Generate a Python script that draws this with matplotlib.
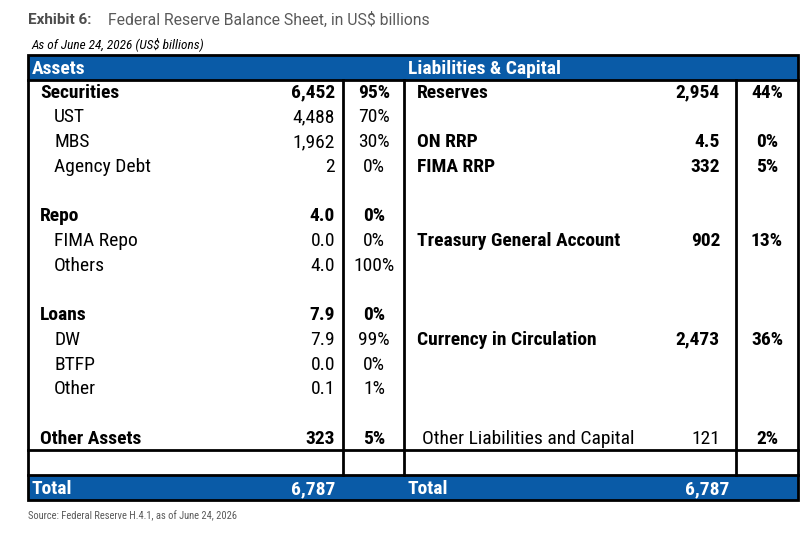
import matplotlib
matplotlib.use("Agg")
import matplotlib.pyplot as plt
from matplotlib.patches import Rectangle

# ---- data ----
asset_labels = ["Securities", "UST", "MBS", "Agency Debt", "",
                "Repo", "FIMA Repo", "Others", "",
                "Loans", "DW", "BTFP", "Other", "",
                "Other Assets"]
asset_values = ["6,452", "4,488", "1,962", "2", "",
                "4.0", "0.0", "4.0", "",
                "7.9", "7.9", "0.0", "0.1", "",
                "323"]
asset_pcts = ["95%", "70%", "30%", "0%", "",
              "0%", "0%", "100%", "",
              "0%", "99%", "0%", "1%", "",
              "5%"]
asset_bold = [True, False, False, False, False,
              True, False, False, False,
              True, False, False, False, False,
              True]

liab_labels = ["Reserves", "", "ON RRP", "FIMA RRP", "", "", "Treasury General Account",
               "", "", "", "Currency in Circulation", "", "", "", "Other Liabilities and Capital"]
liab_values = ["2,954", "", "4.5", "332", "", "", "902",
               "", "", "", "2,473", "", "", "", "121"]
liab_pcts = ["44%", "", "0%", "5%", "", "", "13%",
             "", "", "", "36%", "", "", "", "2%"]
liab_label_bold = [True] * 14 + [False]
liab_value_bold = [True] * 14 + [False]

total_assets = "6,787"
total_liabs = "6,787"

title_bold = "Exhibit 6:"
title_text = "Federal Reserve Balance Sheet, in US$ billions"
subtitle = "As of June 24, 2026 (US$ billions)"
source = "Source: Federal Reserve H.4.1, as of June 24, 2026"

# ---- style ----
COND = ["Roboto Condensed", "Liberation Sans Narrow", "Roboto", "DejaVu Sans"]
BLUE = "#0A5BA7"
GRAY = "#5a5a5a"

W, H = 810, 538
fig = plt.figure(figsize=(W / 100, H / 100), dpi=100)
ax = fig.add_axes([0, 0, 1, 1])
ax.set_xlim(0, W)
ax.set_ylim(H, 0)
ax.axis("off")

# layout (pixels)
L, R = 28, 798
x_v1, x_mid, x_v2 = 342.5, 404, 735.5
top, head_bot = 55, 80
row0, step = 92.8, 24.7
line_y = 450
tot_top, tot_bot = 475, 500
lw = 2.0

# title
ax.text(28, 20, title_bold, fontsize=11, fontweight="bold", color="#4d4d4d",
        family=["Roboto", "DejaVu Sans"], va="center", ha="left")
ax.text(108, 20, title_text, fontsize=11.3, color=GRAY,
        family=["Roboto", "DejaVu Sans"], va="center", ha="left")
ax.text(31, 44.5, subtitle, fontsize=9.5, style="italic", color="black",
        family=COND, va="center", ha="left")
ax.text(28, 516, source, fontsize=7.6, color=GRAY,
        family=COND, va="center", ha="left")

# header band & total band
ax.add_patch(Rectangle((L, top), R - L, head_bot - top, facecolor=BLUE,
                       edgecolor="black", lw=lw, zorder=1))
ax.add_patch(Rectangle((L, tot_top), R - L, tot_bot - tot_top, facecolor=BLUE,
                       edgecolor="black", lw=lw, zorder=1))
# body borders
ax.plot([L, L], [head_bot, tot_top], color="black", lw=lw)
ax.plot([R, R], [head_bot, tot_top], color="black", lw=lw)
for xv in (x_v1, x_mid, x_v2):
    ax.plot([xv, xv], [head_bot, tot_top], color="black", lw=lw)
ax.plot([L, R], [line_y, line_y], color="black", lw=lw)

hdr = dict(fontsize=14, fontweight="bold", color="white", family=COND,
           va="center", ha="left")
ax.text(32, 68.5, "Assets", **hdr)
ax.text(408, 68.5, "Liabilities & Capital", **hdr)

fs = 14
for i, (lab, val, pct, b) in enumerate(zip(asset_labels, asset_values, asset_pcts, asset_bold)):
    y = row0 + i * step
    wt = "bold" if b else "normal"
    if lab:
        ax.text(40 if b else 54, y, lab, fontsize=fs, fontweight=wt, family=COND,
                va="center", ha="left")
    if val:
        ax.text(335, y, val, fontsize=fs, fontweight=wt, family=COND,
                va="center", ha="right")
    if pct:
        ax.text(374, y, pct, fontsize=fs, fontweight=wt, family=COND,
                va="center", ha="center")

for i, (lab, val, pct, bl, bv) in enumerate(zip(liab_labels, liab_values, liab_pcts,
                                                 liab_label_bold, liab_value_bold)):
    y = row0 + i * step
    if lab:
        ax.text(417 if bl else 422, y, lab, fontsize=fs,
                fontweight="bold" if bl else "normal", family=COND,
                va="center", ha="left")
    if val:
        ax.text(720, y, val, fontsize=fs, fontweight="bold" if bv else "normal",
                family=COND, va="center", ha="right")
    if pct:
        ax.text(767, y, pct, fontsize=fs, fontweight="bold", family=COND,
                va="center", ha="center")

tot = dict(fontsize=14, fontweight="bold", color="white", family=COND, va="center")
yt = (tot_top + tot_bot) / 2 + 1.5
ax.text(32, yt, "Total", ha="left", **tot)
ax.text(335, yt, total_assets, ha="right", **tot)
ax.text(408, yt, "Total", ha="left", **tot)
ax.text(729, yt, total_liabs, ha="right", **tot)

fig.savefig("out.png", dpi=100)
